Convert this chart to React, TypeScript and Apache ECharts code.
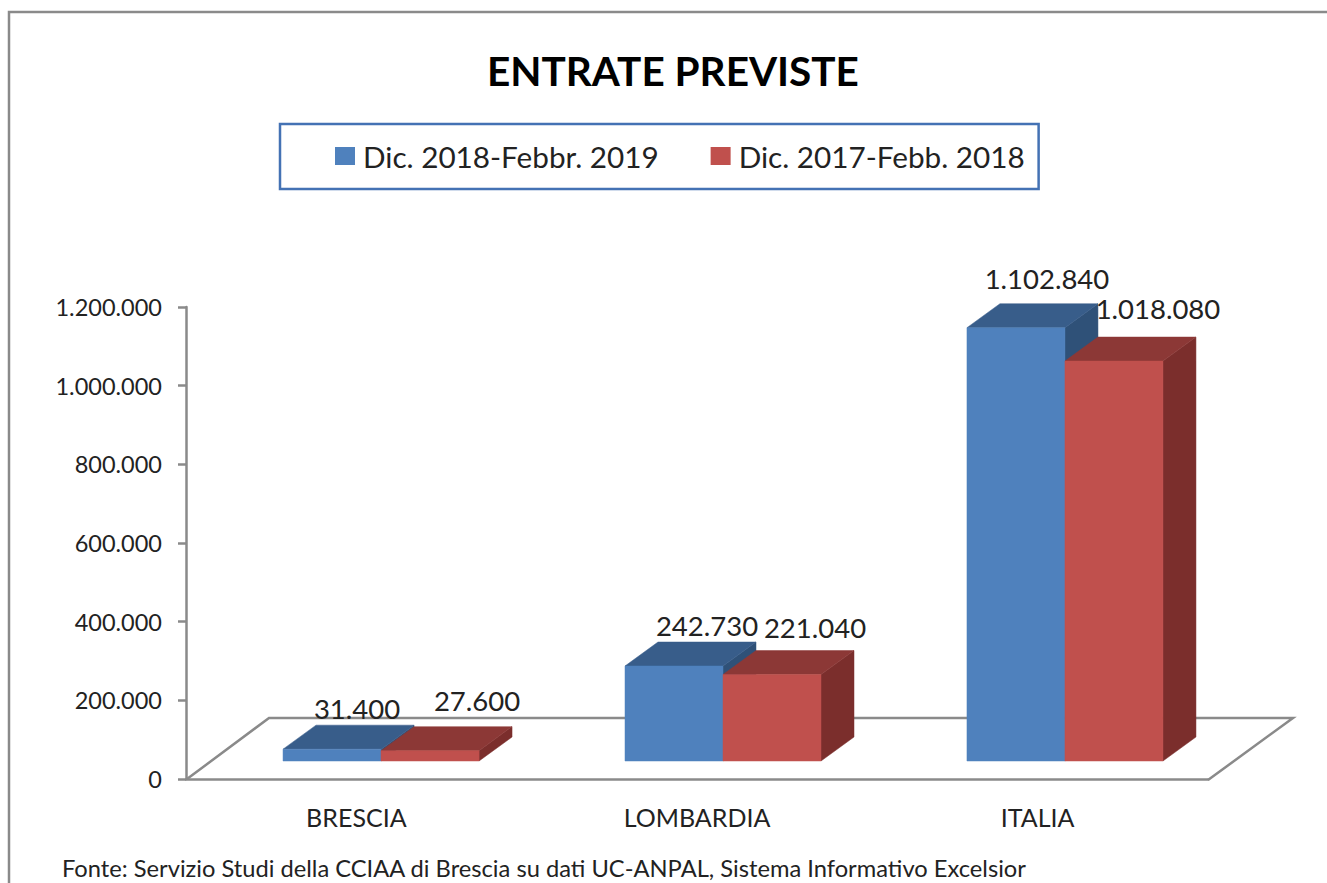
import React, { useEffect, useRef } from "react";
import * as echarts from "echarts";

const categories = ["BRESCIA", "LOMBARDIA", "ITALIA"];
const seriesNames = ["Dic. 2018-Febbr. 2019", "Dic. 2017-Febb. 2018"];
const values2019 = [31400, 242730, 1102840];
const values2018 = [27600, 221040, 1018080];
const FONT = "Lato";
const GREY = "#8a8a8a";

const FACE = [
  { front: "#4f81bd", top: "#385d8a", side: "#2f5178" },
  { front: "#c0504d", top: "#8c3836", side: "#7b2e2c" },
];
const DX = 33, DY = 24, FLOOR_LIFT = 18, BAR_W = 98, BAR_SHIFT = 26, BAR_SPREAD = 1.3;
// label anchor tweak per [series][category], relative to the back top edge centre
const LABEL_NUDGE = [
  [[-8, -17], [0, -17], [-2, -25]],
  [[14, -26], [10, -23], [11, -29]],
];
const fmt = (v: number) => String(v).replace(/\B(?=(\d{3})+(?!\d))/g, ".");

function barRenderer(s: number) {
  return (params: any, api: any) => {
    const i = api.value(0);
    const v = api.value(1);
    const c = api.coord([i, v]);
    const z = api.coord([i, 0]);
    const base = z[1] - FLOOR_LIFT;
    const top = c[1] - FLOOR_LIFT + 0.5;
    const x0 = c[0] + BAR_SHIFT + (i - 1) * BAR_SPREAD + (s === 0 ? -BAR_W : 0);
    const x1 = x0 + BAR_W;
    const col = FACE[s];
    const poly = (points: number[][], fill: string) => ({
      type: "polygon",
      shape: { points },
      style: { fill, stroke: fill, lineWidth: 0.5 },
    });
    const n = LABEL_NUDGE[s][i];
    return {
      type: "group",
      children: [
        poly([[x1, base], [x1 + DX, base - DY], [x1 + DX, top - DY], [x1, top]], col.side),
        poly([[x0, top], [x0 + DX, top - DY], [x1 + DX, top - DY], [x1, top]], col.top),
        poly([[x0, base], [x1, base], [x1, top], [x0, top]], col.front),
        {
          type: "text",
          style: {
            x: (x0 + x1) / 2 + DX + n[0],
            y: top - DY + n[1],
            text: fmt(v),
            fill: "#222222",
            font: `27.5px ${FONT}`,
            align: "center",
            verticalAlign: "middle",
          },
        },
      ],
    };
  };
}

function floorRenderer(params: any) {
  const { x, y, width, height } = params.coordSys;
  const b = y + height;
  return {
    type: "polyline",
    shape: {
      points: [
        [x + 1, b],
        [x + 83, b - 61],
        [x + 1107, b - 61],
        [x + width, b + 1],
      ],
    },
    style: { fill: "none", stroke: GREY, lineWidth: 2.5 },
  };
}

export default function App() {
  const ref = useRef<HTMLDivElement>(null);
  useEffect(() => {
    const chart = echarts.init(ref.current!, null, { renderer: "svg" });
    chart.setOption({
      animation: false,
      backgroundColor: "#ffffff",
      title: {
        text: "ENTRATE PREVISTE",
        left: 487,
        top: 50,
        padding: 0,
        textStyle: { fontFamily: FONT, fontWeight: "bold", fontSize: 40.5, color: "#000000" },
      },
      legend: {
        left: 280,
        top: 124,
        padding: [17, 14, 18, 55],
        itemWidth: 20,
        itemHeight: 18,
        itemGap: 52,
        icon: "rect",
        borderColor: "#4472b4",
        borderWidth: 2.5,
        data: seriesNames,
        textStyle: { fontFamily: FONT, fontSize: 29.7, color: "#222222", padding: [0, 0, 0, 3] },
      },
      grid: { left: 186, top: 307, width: 1022, height: 472, containLabel: false },
      xAxis: {
        type: "category",
        data: categories,
        axisLine: { lineStyle: { color: GREY, width: 2.5 } },
        axisTick: { length: 10, alignWithLabel: false, lineStyle: { color: GREY, width: 2.5 } },
        axisLabel: { fontFamily: FONT, fontSize: 25, color: "#222222", margin: 25 },
      },
      yAxis: {
        type: "value",
        min: 0,
        max: 1200000,
        interval: 200000,
        splitLine: { show: false },
        axisLine: { show: true, lineStyle: { color: GREY, width: 2.5 } },
        axisTick: { show: true, length: 8, lineStyle: { color: GREY, width: 2.5 } },
        axisLabel: {
          fontFamily: FONT,
          fontSize: 23.5,
          color: "#222222",
          margin: 24,
          formatter: (v: number) => fmt(v),
        },
      },
      series: [
        {
          type: "custom",
          name: "floor",
          silent: true,
          z: 1,
          renderItem: floorRenderer,
          data: [[0, 0]],
          encode: { x: 0, y: 1 },
        },
        {
          type: "custom",
          name: seriesNames[0],
          z: 2,
          itemStyle: { color: FACE[0].front },
          renderItem: barRenderer(0),
          data: values2019.map((v, i) => [i, v]),
          encode: { x: 0, y: 1 },
        },
        {
          type: "custom",
          name: seriesNames[1],
          z: 3,
          itemStyle: { color: FACE[1].front },
          renderItem: barRenderer(1),
          data: values2018.map((v, i) => [i, v]),
          encode: { x: 0, y: 1 },
        },
      ],
      graphic: [
        {
          type: "rect",
          silent: true,
          z: -1,
          shape: { x: 9, y: 12, width: 1340, height: 900 },
          style: { fill: "none", stroke: GREY, lineWidth: 2.5 },
        },
        {
          type: "text",
          x: 62,
          y: 868,
          style: {
            text: "Fonte: Servizio Studi della CCIAA di Brescia su dati UC-ANPAL, Sistema Informativo Excelsior",
            font: `23.7px ${FONT}`,
            fill: "#222222",
            verticalAlign: "middle",
          },
        },
      ],
    });
    return () => chart.dispose();
  }, []);
  return (
    <div
      ref={ref}
      style={{ position: "absolute", left: 0, top: 0, width: 1327, height: 883, background: "#fff" }}
    />
  );
}
